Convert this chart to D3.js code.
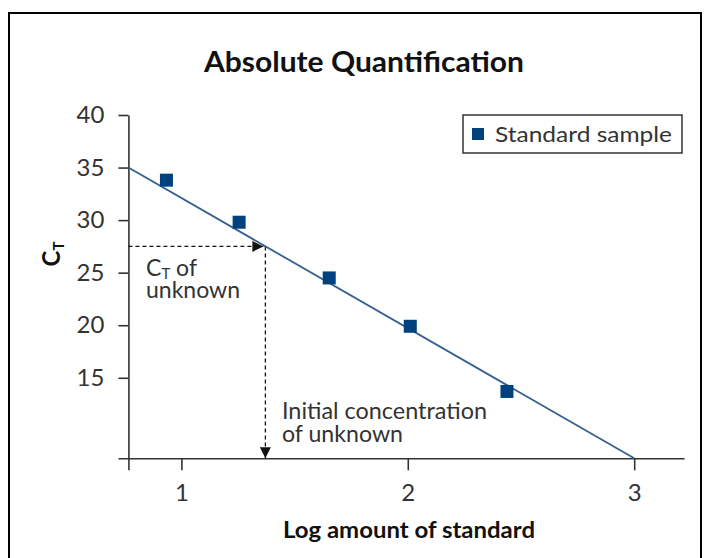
<!DOCTYPE html>
<html>
<head>
<meta charset="utf-8">
<script src="https://cdn.jsdelivr.net/npm/d3@7"></script>
<style>
  body { margin: 0; background: #fff; }
  svg { display: block; font-family: "Lato", "Open Sans", sans-serif; }
  .axis path, .axis line { stroke: #333; stroke-width: 1.6; }
  .axis text { fill: #333; font-size: 24px; font-family: "Lato", sans-serif; }
</style>
</head>
<body>
<svg id="chart" width="707" height="558"></svg>
<script>
// standard samples (log amount vs Ct)
const stdX = [0.934, 1.255, 1.653, 2.011, 2.438];
const stdCt = [33.8, 29.8, 24.5, 19.9, 13.7];
// fitted standard curve
const fitX = [0.766, 3.0];
const fitCt = [35.0, 7.34];
// unknown sample
const unknownX = 1.371;
const unknownCt = 27.5;
const xTicks = [1, 2, 3];
const yTicks = [15, 20, 25, 30, 35, 40];

const POINTCOLOR = "#00427d";
const LINECOLOR = "#35608f";

var svg = d3.select("#chart");

// outer frame
svg.append("path")
  .attr("d", "M9,570 V13 H701 V570")
  .attr("fill", "none")
  .attr("stroke", "#000")
  .attr("stroke-width", 2);

var x = d3.scaleLinear().domain([0.72, 3.22]).range([118, 684]);
var y = d3.scaleLinear().domain([fitCt[1], 40]).range([458.3, 115]);

// arrow markers
var defs = svg.append("defs");
defs.append("marker")
  .attr("id", "arrow")
  .attr("viewBox", "0 0 10 10")
  .attr("refX", 10)
  .attr("refY", 5)
  .attr("markerUnits", "userSpaceOnUse")
  .attr("markerWidth", 14)
  .attr("markerHeight", 11)
  .attr("orient", "auto")
  .append("path")
  .attr("d", "M0,0 L10,5 L0,10 Z")
  .attr("fill", "#111");

// x axis
svg.append("g")
  .attr("class", "axis")
  .attr("transform", "translate(0," + y(fitCt[1]) + ")")
  .call(d3.axisBottom(x)
    .tickValues([fitX[0]].concat(xTicks))
    .tickSize(12)
    .tickSizeOuter(0)
    .tickPadding(14)
    .tickFormat(function (d) { return xTicks.indexOf(d) >= 0 ? d : ""; }));

// y axis
svg.append("g")
  .attr("class", "axis")
  .attr("transform", "translate(" + x(fitX[0]) + ",0)")
  .call(d3.axisLeft(y)
    .tickValues(yTicks)
    .tickSize(10)
    .tickSizeOuter(0)
    .tickPadding(14));

svg.selectAll(".axis .domain").attr("stroke", "#333");

// dashed guide lines for the unknown
svg.append("line")
  .attr("x1", x(fitX[0])).attr("y1", y(unknownCt))
  .attr("x2", x(unknownX) - 2).attr("y2", y(unknownCt))
  .attr("stroke", "#111").attr("stroke-width", 1.3)
  .attr("stroke-dasharray", "4,3")
  .attr("marker-end", "url(#arrow)");

svg.append("line")
  .attr("x1", x(unknownX)).attr("y1", y(unknownCt))
  .attr("x2", x(unknownX)).attr("y2", y(fitCt[1]))
  .attr("stroke", "#111").attr("stroke-width", 1.3)
  .attr("stroke-dasharray", "4,3")
  .attr("marker-end", "url(#arrow)");

// standard curve
svg.append("line")
  .attr("x1", x(fitX[0])).attr("y1", y(fitCt[0]))
  .attr("x2", x(fitX[1])).attr("y2", y(fitCt[1]))
  .attr("stroke", LINECOLOR)
  .attr("stroke-width", 1.8);

// standard points
var pts = stdX.map(function (d, i) { return [d, stdCt[i]]; });
svg.selectAll("rect.pt")
  .data(pts)
  .enter()
  .append("rect")
  .attr("class", "pt")
  .attr("x", function (d) { return x(d[0]) - 6.5; })
  .attr("y", function (d) { return y(d[1]) - 6.5; })
  .attr("width", 13)
  .attr("height", 13)
  .attr("fill", POINTCOLOR);

// title
svg.append("text")
  .attr("x", 364).attr("y", 72)
  .attr("text-anchor", "middle")
  .attr("font-size", 28)
  .attr("font-weight", "bold")
  .attr("fill", "#111")
  .attr("textLength", 320)
  .attr("lengthAdjust", "spacingAndGlyphs")
  .text("Absolute Quantification");

// x axis title
svg.append("text")
  .attr("x", 409).attr("y", 538)
  .attr("text-anchor", "middle")
  .attr("font-size", 22)
  .attr("font-weight", "bold")
  .attr("fill", "#111")
  .attr("textLength", 252)
  .attr("lengthAdjust", "spacingAndGlyphs")
  .text("Log amount of standard");

// y axis title C_T
var yt = svg.append("text")
  .attr("transform", "translate(60,254) rotate(-90)")
  .attr("text-anchor", "middle")
  .attr("font-size", 24)
  .attr("font-weight", "bold")
  .attr("fill", "#111");
yt.append("tspan").text("C");
yt.append("tspan").attr("font-size", 15).attr("dy", 4).text("T");

// annotation: Ct of unknown
var a1 = svg.append("text")
  .attr("x", 146).attr("y", 276)
  .attr("font-size", 23)
  .attr("fill", "#333");
a1.append("tspan").text("C");
a1.append("tspan").attr("font-size", 15).attr("dy", 3).text("T");
a1.append("tspan").attr("dy", -3).text(" of");
svg.append("text")
  .attr("x", 146).attr("y", 298)
  .attr("font-size", 23)
  .attr("fill", "#333")
  .attr("textLength", 94)
  .attr("lengthAdjust", "spacingAndGlyphs")
  .text("unknown");

// annotation: initial concentration
svg.append("text")
  .attr("x", 282).attr("y", 419)
  .attr("font-size", 23)
  .attr("fill", "#333")
  .attr("textLength", 205)
  .attr("lengthAdjust", "spacingAndGlyphs")
  .text("Initial concentration");
svg.append("text")
  .attr("x", 282).attr("y", 442)
  .attr("font-size", 23)
  .attr("fill", "#333")
  .attr("textLength", 121)
  .attr("lengthAdjust", "spacingAndGlyphs")
  .text("of unknown");

// legend
var lg = svg.append("g").attr("transform", "translate(463,115)");
lg.append("rect")
  .attr("width", 219).attr("height", 38)
  .attr("fill", "#fff")
  .attr("stroke", "#333")
  .attr("stroke-width", 1.5);
lg.append("rect")
  .attr("x", 9).attr("y", 13)
  .attr("width", 12).attr("height", 12)
  .attr("fill", POINTCOLOR);
lg.append("text")
  .attr("x", 32).attr("y", 27)
  .attr("font-size", 22)
  .attr("fill", "#333")
  .attr("textLength", 177)
  .attr("lengthAdjust", "spacingAndGlyphs")
  .text("Standard sample");
</script>
</body>
</html>
